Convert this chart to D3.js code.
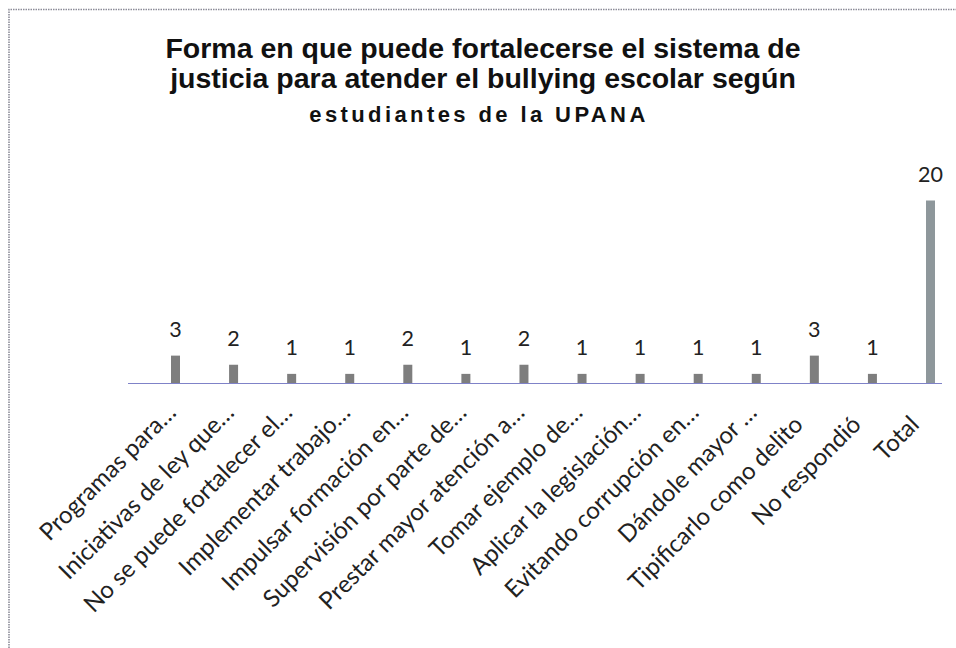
<!DOCTYPE html>
<html><head><meta charset="utf-8">
<script src="https://cdn.jsdelivr.net/npm/d3@7/dist/d3.min.js"></script>
<style>html,body{margin:0;padding:0;background:#fff;}svg{display:block;}</style>
</head><body>
<svg id="c" width="956" height="648"></svg>
<script>
const titleLines = ["Forma en que puede fortalecerse el sistema de", "justicia para atender el bullying escolar según"];
const subtitle = "estudiantes de la UPANA";
const categories = ["Programas para…", "Iniciativas de ley que…", "No se puede fortalecer el…", "Implementar trabajo…", "Impulsar formación en…", "Supervisión por parte de…", "Prestar mayor atención a…", "Tomar ejemplo de…", "Aplicar la legislación…", "Evitando corrupción en…", "Dándole mayor …", "Tipificarlo como delito", "No respondió", "Total"];
const values = [3, 2, 1, 1, 2, 1, 2, 1, 1, 1, 1, 3, 1, 20];

const svg = d3.select("#c");
const W = 956, H = 648;
const baseY = 383, topY = 200.5;
const axisLeft = 128, axisRight = 942;
const barW = 9;

// frame (only left and top edges visible)
svg.append("path").attr("d", `M9,${H} L9,9.5 L${W},9.5`)
  .attr("fill", "none").attr("stroke", "#8c8c98").attr("stroke-width", 1.6).attr("stroke-dasharray", "1.5,1");

// title
const tg = svg.append("g").attr("font-family", "'Liberation Sans', Arial, sans-serif").attr("font-weight", "bold").attr("fill", "#111").attr("text-anchor", "middle");
tg.selectAll("text.t").data(titleLines).join("text").attr("class", "t")
  .attr("x", 483).attr("y", (d, i) => 58.3 + i * 30).attr("font-size", 28.5).text(d => d);
tg.append("text").attr("x", 479).attr("y", 121.5).attr("font-size", 22).attr("letter-spacing", 3.4).text(subtitle);

const x = d3.scalePoint().domain(categories).range([175.5, 930.5]);
const y = d3.scaleLinear().domain([0, 20]).range([baseY, topY]);

// bars
svg.append("g").selectAll("rect").data(categories).join("rect")
  .attr("x", d => x(d) - barW / 2).attr("width", barW)
  .attr("y", (d, i) => y(values[i])).attr("height", (d, i) => baseY - y(values[i]))
  .attr("fill", (d, i) => i === categories.length - 1 ? "#8e979b" : "#7e7e7e");

// baseline
svg.append("line").attr("x1", axisLeft).attr("x2", axisRight).attr("y1", baseY + 0.5).attr("y2", baseY + 0.5)
  .attr("stroke", "#7f82c8").attr("stroke-width", 1.2);

// value labels
svg.append("g").attr("font-family", "Lato, 'Open Sans', sans-serif").attr("font-size", 21.5).attr("fill", "#222").attr("text-anchor", "middle")
  .selectAll("text").data(categories).join("text")
  .attr("x", d => x(d)).attr("y", (d, i) => y(values[i]) - 18.5).text((d, i) => values[i]);

// category labels
svg.append("g").attr("font-family", "Lato, 'Open Sans', sans-serif").attr("font-size", 24).attr("fill", "#222").attr("text-anchor", "end")
  .selectAll("text").data(categories).join("text")
  .attr("transform", d => `translate(${x(d) + 2},${baseY + 31}) rotate(-45)`)
  .attr("dx", d => d.endsWith("…") ? 0 : -17)
  .text(d => d);
</script>
</body></html>
